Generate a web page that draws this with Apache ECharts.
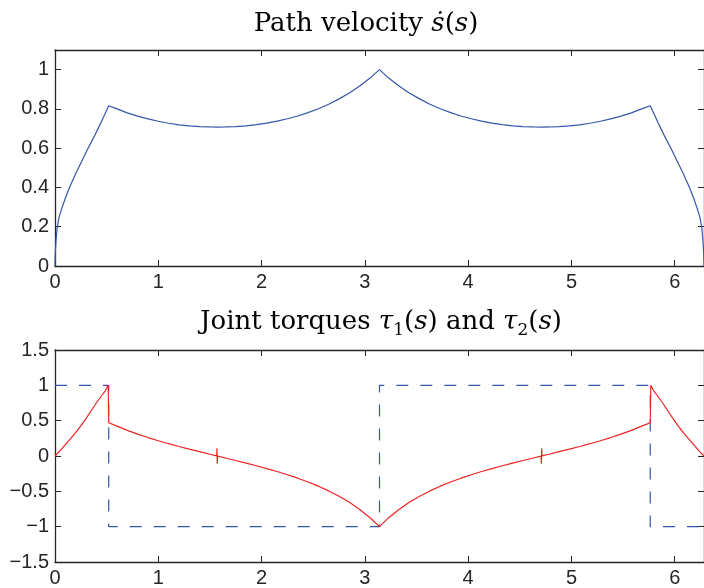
<!DOCTYPE html>
<html>
<head>
<meta charset="utf-8">
<script src="https://cdn.jsdelivr.net/npm/echarts@6/dist/echarts.min.js"></script>
<style>
html,body{margin:0;padding:0;background:#fff;}
#c{width:704px;height:588px;}
</style>
</head>
<body>
<div id="c"></div>
<script>
// ---- data ----
const velS = [0, 0.003, 0.01, 0.02, 0.04, 0.07, 0.1, 0.14, 0.2, 0.26, 0.32, 0.38, 0.44, 0.48, 0.52,
  0.6, 0.7, 0.8, 0.9, 1.0, 1.1, 1.2, 1.3, 1.4, 1.5, 1.571, 1.65, 1.75, 1.85, 1.95, 2.05, 2.15, 2.25, 2.35, 2.45, 2.55, 2.65, 2.75, 2.85, 2.95, 3.05, 3.1416,
  3.23, 3.33, 3.43, 3.53, 3.63, 3.73, 3.83, 3.93, 4.03, 4.13, 4.23, 4.33, 4.43, 4.53, 4.63, 4.712, 4.79, 4.88, 4.98, 5.08, 5.18, 5.28, 5.38, 5.48, 5.58, 5.68,
  5.763, 5.803, 5.843, 5.903, 5.963, 6.023, 6.083, 6.143, 6.183, 6.213, 6.243, 6.263, 6.273, 6.280, 6.2832];
const velV = [0, 0.07, 0.13, 0.19, 0.25, 0.30, 0.345, 0.40, 0.47, 0.535, 0.60, 0.66, 0.725, 0.77, 0.816,
  0.800, 0.780, 0.763, 0.749, 0.737, 0.727, 0.719, 0.714, 0.710, 0.708, 0.707, 0.708, 0.710, 0.714, 0.720, 0.728, 0.738, 0.750, 0.764, 0.781, 0.801, 0.824, 0.851, 0.881, 0.917, 0.957, 1.0,
  0.957, 0.917, 0.881, 0.851, 0.824, 0.801, 0.781, 0.764, 0.750, 0.738, 0.728, 0.720, 0.714, 0.710, 0.708, 0.707, 0.708, 0.710, 0.714, 0.719, 0.727, 0.737, 0.749, 0.763, 0.780, 0.800,
  0.816, 0.77, 0.725, 0.66, 0.60, 0.535, 0.47, 0.40, 0.345, 0.30, 0.25, 0.19, 0.13, 0.07, 0];

const tau1S = [0, 0.05, 0.1, 0.15, 0.2, 0.25, 0.3, 0.35, 0.4, 0.46, 0.49, 0.515, 0.52,
  0.6, 0.7, 0.8, 0.9, 1.0, 1.1, 1.2, 1.3, 1.4, 1.5, 1.566, 1.568, 1.571, 1.574,
  1.65, 1.75, 1.85, 1.95, 2.05, 2.15, 2.25, 2.35, 2.45, 2.55, 2.65, 2.75, 2.85, 2.95, 3.05, 3.1416,
  3.23, 3.33, 3.43, 3.53, 3.63, 3.73, 3.83, 3.93, 4.03, 4.13, 4.23, 4.33, 4.43, 4.53, 4.63, 4.706, 4.709, 4.712, 4.715,
  4.78, 4.88, 4.98, 5.08, 5.18, 5.28, 5.38, 5.48, 5.58, 5.68, 5.763, 5.768,
  5.793, 5.823, 5.883, 5.933, 5.983, 6.033, 6.083, 6.133, 6.183, 6.233, 6.2832];
const tau1V = [0, 0.075, 0.16, 0.245, 0.33, 0.425, 0.53, 0.64, 0.75, 0.87, 0.93, 1.0, 0.47,
  0.422, 0.363, 0.310, 0.261, 0.216, 0.174, 0.135, 0.097, 0.061, 0.025, 0.002, 0.11, -0.11, -0.002,
  -0.028, -0.064, -0.100, -0.138, -0.178, -0.220, -0.265, -0.314, -0.368, -0.427, -0.494, -0.569, -0.656, -0.756, -0.873, -1.0,
  -0.873, -0.756, -0.656, -0.569, -0.494, -0.427, -0.368, -0.314, -0.265, -0.220, -0.178, -0.138, -0.100, -0.064, -0.028, -0.002, -0.11, 0.11, 0.002,
  0.025, 0.061, 0.097, 0.135, 0.174, 0.216, 0.261, 0.310, 0.363, 0.422, 0.47, 1.0,
  0.93, 0.87, 0.75, 0.64, 0.53, 0.425, 0.33, 0.245, 0.16, 0.075, 0];

const tau2S = [0, 0.52, 0.52, 3.1416, 3.1416, 5.763, 5.763, 6.2832];
const tau2V = [1, 1, -1, -1, 1, 1, -1, -1];

const xTicks = [0, 1, 2, 3, 4, 5, 6];
const yTicksTop = [0, 0.2, 0.4, 0.6, 0.8, 1];
const yTicksBottom = [-1.5, -1, -0.5, 0, 0.5, 1, 1.5];

// ---- helpers ----
function zip(a, b) { const n = Math.min(a.length, b.length); const r = []; for (let i = 0; i < n; i++) r.push([a[i], b[i]]); return r; }
function fmt(list) {
  return function (v) {
    for (const t of list) { if (Math.abs(t - v) < 1e-6) return String(t).replace('-', '\u2212'); }
    return '';
  };
}
const AX = '#262626';
const labelFont = { fontFamily: 'Liberation Sans', fontSize: 20, color: '#262626' };
function xAx(grid, pos, show) {
  return {
    type: 'value', gridIndex: grid, position: pos, min: 0, max: 6.2832, interval: 1,
    axisLine: { show: true, onZero: false, lineStyle: { color: AX, width: 1.3 } },
    axisTick: { show: true, inside: true, length: 6, lineStyle: { color: AX, width: 1 } },
    axisLabel: Object.assign({ show: show, margin: 6, showMaxLabel: false, formatter: fmt(xTicks) }, labelFont),
    splitLine: { show: false }
  };
}
function yAx(grid, pos, show, min, max, interval, ticks) {
  return {
    type: 'value', gridIndex: grid, position: pos, min: min, max: max, interval: interval,
    axisLine: { show: true, onZero: false, lineStyle: { color: AX, width: 1.3 } },
    axisTick: { show: true, inside: true, length: 6, lineStyle: { color: AX, width: 1 } },
    axisLabel: Object.assign({ show: show, margin: 6, formatter: fmt(ticks) }, labelFont),
    splitLine: { show: false }
  };
}

const serif = 'DejaVu Serif';
const tSize = 26;
const rich = {
  n: { fontFamily: serif, fontSize: tSize, lineHeight: 34, color: '#111111' },
  i: { fontFamily: serif, fontStyle: 'italic', fontSize: tSize, lineHeight: 34, color: '#111111' },
  sub: { fontFamily: serif, fontSize: 17, lineHeight: 20, verticalAlign: 'bottom', color: '#111111' }
};

const chart = echarts.init(document.getElementById('c'), null, { renderer: 'canvas' });
chart.setOption({
  animation: false,
  backgroundColor: '#ffffff',
  grid: [
    { left: 55, top: 50, width: 652, height: 216 },
    { left: 55, top: 350, width: 652, height: 215 }
  ],
  xAxis: [xAx(0, 'bottom', true), xAx(0, 'top', false), xAx(1, 'bottom', true), xAx(1, 'top', false)],
  yAxis: [
    yAx(0, 'left', true, 0, 1.1, 0.2, yTicksTop), yAx(0, 'right', false, 0, 1.1, 0.2, yTicksTop),
    yAx(1, 'left', true, -1.5, 1.5, 0.5, yTicksBottom), yAx(1, 'right', false, -1.5, 1.5, 0.5, yTicksBottom)
  ],
  graphic: [
    { type: 'text', x: 366, y: 24, style: { text: '{n|Path velocity }{i|\u1E61}{n|(}{i|s}{n|)}', rich: rich, align: 'center', verticalAlign: 'middle', textAlign: 'center', textVerticalAlign: 'middle' } },
    { type: 'text', x: 381, y: 322, style: { text: '{n|Joint torques }{i|\u03C4}{sub|1}{n|(}{i|s}{n|) and }{i|\u03C4}{sub|2}{n|(}{i|s}{n|)}', rich: rich, align: 'center', verticalAlign: 'middle', textAlign: 'center', textVerticalAlign: 'middle' } }
  ],
  series: [
    { type: 'line', xAxisIndex: 0, yAxisIndex: 0, data: zip(velS, velV), showSymbol: false, symbol: 'none',
      lineStyle: { color: '#3355aa', width: 1.2 } },
    { type: 'line', xAxisIndex: 2, yAxisIndex: 2, data: zip(tau2S, tau2V), showSymbol: false, symbol: 'none',
      lineStyle: { color: '#3355aa', width: 1.2, type: [12, 12] } },
    { type: 'line', xAxisIndex: 2, yAxisIndex: 2, data: zip(tau1S, tau1V), showSymbol: false, symbol: 'none',
      lineStyle: { color: '#ee2222', width: 1.2 } }
  ]
});
</script>
</body>
</html>
